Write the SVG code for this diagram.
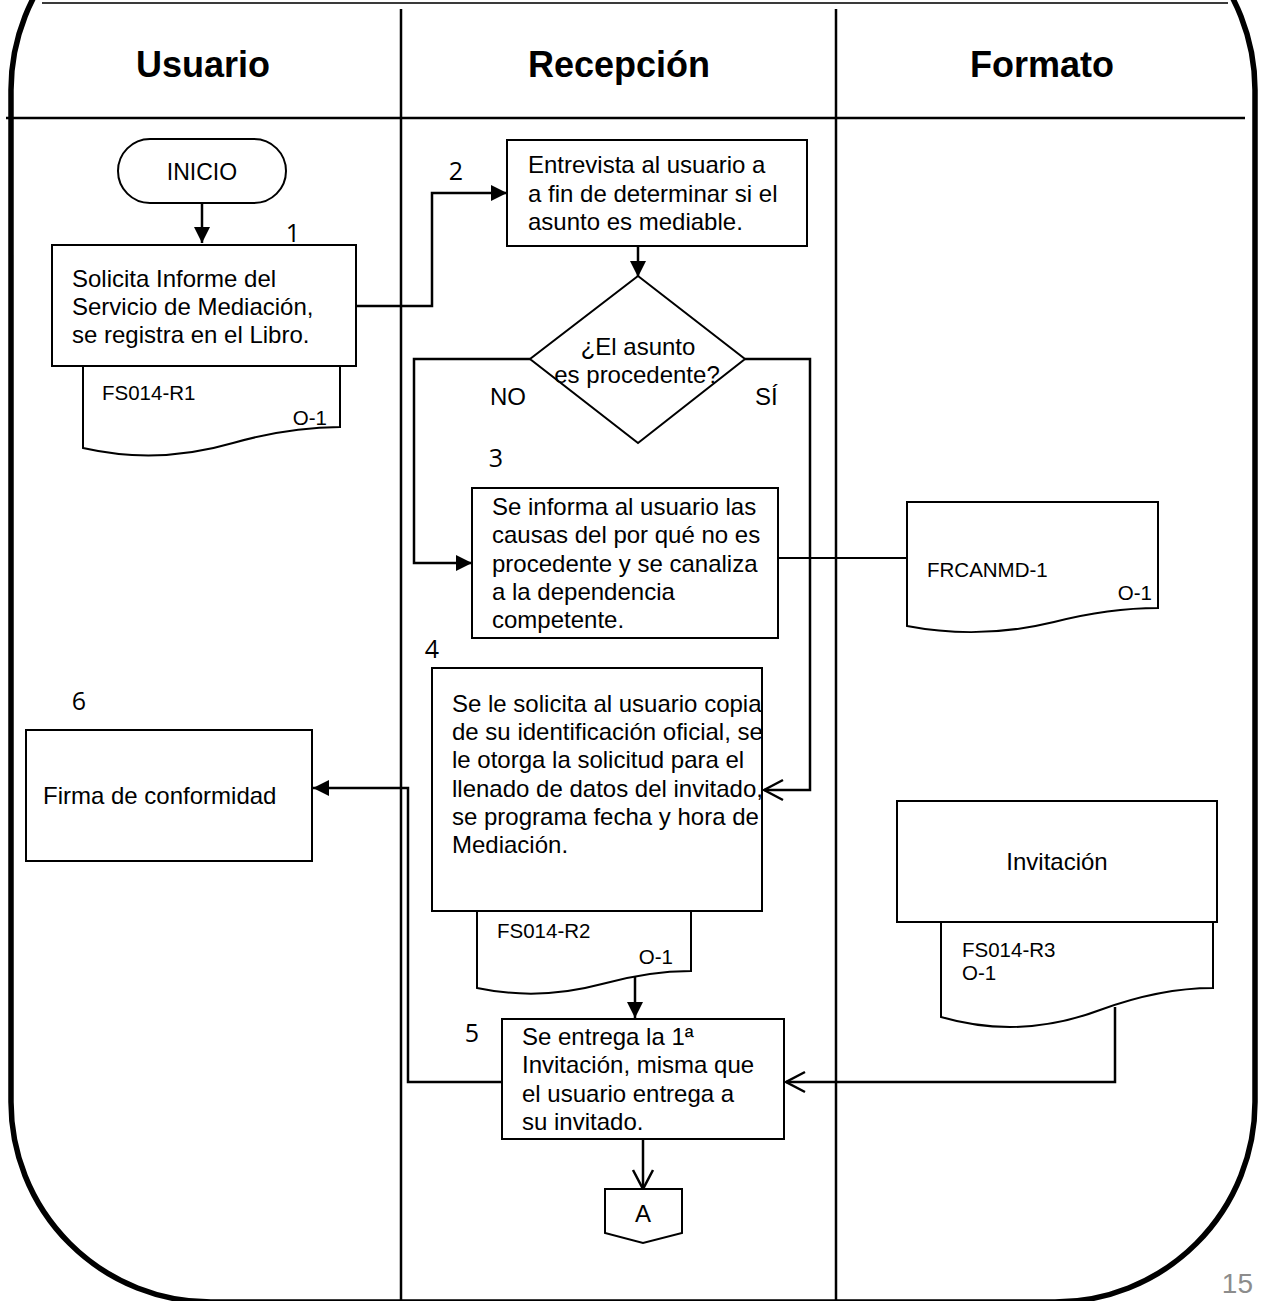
<svg xmlns="http://www.w3.org/2000/svg" width="1264" height="1301" viewBox="0 0 1264 1301">
  <style>
    .frame { fill: none; stroke: #000; stroke-width: 5.5; }
    .lane { fill: none; stroke: #000; stroke-width: 2.5; }
    .box { fill: #fff; stroke: #000; stroke-width: 2; }
    .conn { fill: none; stroke: #000; stroke-width: 2.5; }
    .thin { fill: none; stroke: #000; stroke-width: 1.8; }
    .hdr { font-family: "Liberation Sans", Arial, sans-serif; font-size: 36px; font-weight: bold; fill: #000; text-anchor: middle; }
    .t { font-family: "Liberation Sans", Arial, sans-serif; font-size: 24px; fill: #000; }
    .c { text-anchor: middle; }
    .s { font-family: "Liberation Sans", Arial, sans-serif; font-size: 20.5px; fill: #000; }
    .e { text-anchor: end; }
    .num { font-family: "Open Sans", Lato, sans-serif; font-size: 25px; fill: #000; text-anchor: middle; }
    .page { font-family: "Liberation Sans", Arial, sans-serif; font-size: 28px; fill: #8c8c8c; text-anchor: end; }
  </style>
  <defs>
    <marker id="solid" markerUnits="userSpaceOnUse" markerWidth="16" markerHeight="16" refX="16" refY="8" orient="auto" overflow="visible">
      <path d="M0,0 L16,8 L0,16 Z" fill="#000"/>
    </marker>
    <marker id="open" markerUnits="userSpaceOnUse" markerWidth="20" markerHeight="22" refX="19" refY="10" orient="auto" overflow="visible">
      <path d="M0,0 L19,10 L0,20" fill="none" stroke="#000" stroke-width="2.5"/>
    </marker>
  </defs>

  <!-- page frame and swimlane grid -->
  <g id="frame">
    <rect class="frame" x="11" y="-110" width="1244" height="1412" rx="200" ry="200"/>
    <line x1="42" y1="3" x2="1228" y2="3" stroke="#3a3a3a" stroke-width="2"/>
    <line class="lane" x1="6" y1="118" x2="1245" y2="118" stroke-width="3"/>
    <line class="lane" x1="401" y1="9" x2="401" y2="1301"/>
    <line class="lane" x1="836" y1="9" x2="836" y2="1301"/>
    <text class="hdr" x="203" y="77">Usuario</text>
    <text class="hdr" x="619" y="77">Recepción</text>
    <text class="hdr" x="1042" y="77">Formato</text>
  </g>

  <!-- connectors -->
  <g id="connectors">
    <path class="conn" d="M202,203 V243" marker-end="url(#solid)"/>
    <path class="conn" d="M356,306 H432 V193 H507" marker-end="url(#solid)"/>
    <path class="conn" d="M638,246 V277" marker-end="url(#solid)"/>
    <path class="conn" d="M530,359 H414 V563 H472" marker-end="url(#solid)"/>
    <path class="conn" d="M745,359 H810 V790 H764" marker-end="url(#open)"/>
    <path class="thin" d="M778,558 H907"/>
    <path class="conn" d="M635,976 V1018" marker-end="url(#solid)"/>
    <path class="conn" d="M502,1082 H408 V788 H313" marker-end="url(#solid)"/>
    <path class="conn" d="M1115,1007 V1082 H786" marker-end="url(#open)"/>
    <path class="conn" d="M643,1139 V1189" marker-end="url(#open)"/>
  </g>

  <!-- Usuario lane -->
  <g id="inicio">
    <rect class="box" x="118" y="139" width="168" height="64" rx="32" ry="32"/>
    <text class="t c" x="202" y="180" style="font-size:23px">INICIO</text>
  </g>
  <g id="paso1">
    <text class="num" x="293" y="242">1</text>
    <rect class="box" x="52" y="245" width="304" height="121"/>
    <text class="t" x="72" y="287">Solicita Informe del</text>
    <text class="t" x="72" y="315">Servicio de Mediación,</text>
    <text class="t" x="72" y="343">se registra en el Libro.</text>
  </g>
  <g id="doc-fs014-r1">
    <path class="box" d="M83,366 H340 V427 Q290,427 233,443 Q158,465 83,448 Z"/>
    <text class="s" x="102" y="400">FS014-R1</text>
    <text class="s e" x="327" y="425">O-1</text>
  </g>
  <g id="paso6">
    <text class="num" x="79" y="710">6</text>
    <rect class="box" x="26" y="730" width="286" height="131"/>
    <text class="t" x="43" y="804">Firma de conformidad</text>
  </g>

  <!-- Recepción lane -->
  <g id="paso2">
    <text class="num" x="456" y="180">2</text>
    <rect class="box" x="507" y="140" width="300" height="106"/>
    <text class="t" x="528" y="173">Entrevista al usuario a</text>
    <text class="t" x="528" y="202">a fin de determinar si el</text>
    <text class="t" x="528" y="230">asunto es mediable.</text>
  </g>
  <g id="decision">
    <path class="box" d="M638,276 L745,359 L638,443 L530,359 Z"/>
    <text class="t c" x="638" y="355">¿El asunto</text>
    <text class="t c" x="637" y="383">es procedente?</text>
    <text class="t" x="490" y="405">NO</text>
    <text class="t" x="755" y="405">SÍ</text>
  </g>
  <g id="paso3">
    <text class="num" x="496" y="467">3</text>
    <rect class="box" x="472" y="488" width="306" height="150"/>
    <text class="t" x="492" y="515">Se informa al usuario las</text>
    <text class="t" x="492" y="543">causas del por qué no es</text>
    <text class="t" x="492" y="572">procedente y se canaliza</text>
    <text class="t" x="492" y="600">a la dependencia</text>
    <text class="t" x="492" y="628">competente.</text>
  </g>
  <g id="paso4">
    <text class="num" x="432" y="658">4</text>
    <rect class="box" x="432" y="668" width="330" height="243"/>
    <text class="t" x="452" y="712">Se le solicita al usuario copia</text>
    <text class="t" x="452" y="740">de su identificación oficial, se</text>
    <text class="t" x="452" y="768">le otorga la solicitud para el</text>
    <text class="t" x="452" y="797">llenado de datos del invitado,</text>
    <text class="t" x="452" y="825">se programa fecha y hora de</text>
    <text class="t" x="452" y="853">Mediación.</text>
  </g>
  <g id="doc-fs014-r2">
    <path class="box" d="M477,911 H691 V971 Q649,971 602,984 Q539,1001 477,988 Z"/>
    <text class="s" x="497" y="938">FS014-R2</text>
    <text class="s e" x="673" y="964">O-1</text>
  </g>
  <g id="paso5">
    <text class="num" x="472" y="1042">5</text>
    <rect class="box" x="502" y="1019" width="282" height="120"/>
    <text class="t" x="522" y="1045">Se entrega la 1ª</text>
    <text class="t" x="522" y="1073">Invitación, misma que</text>
    <text class="t" x="522" y="1102">el usuario entrega a</text>
    <text class="t" x="522" y="1130">su invitado.</text>
  </g>
  <g id="conector-a">
    <path class="box" d="M605,1189 H682 V1233 L643,1243 L605,1233 Z"/>
    <text class="t c" x="643" y="1222">A</text>
  </g>

  <!-- Formato lane -->
  <g id="doc-frcanmd-1">
    <path class="box" d="M907,502 H1158 V608 Q1109,608 1054,622 Q980,640 907,626 Z"/>
    <text class="s" x="927" y="577">FRCANMD-1</text>
    <text class="s e" x="1152" y="600">O-1</text>
  </g>
  <g id="invitacion">
    <rect class="box" x="897" y="801" width="320" height="121"/>
    <text class="t c" x="1057" y="870">Invitación</text>
  </g>
  <g id="doc-fs014-r3">
    <path class="box" d="M941,922 H1213 V988 Q1160,988 1100,1010 Q1020,1040 941,1017 Z"/>
    <text class="s" x="962" y="957">FS014-R3</text>
    <text class="s" x="962" y="980">O-1</text>
  </g>

  <text class="page" x="1253" y="1293">15</text>
</svg>
